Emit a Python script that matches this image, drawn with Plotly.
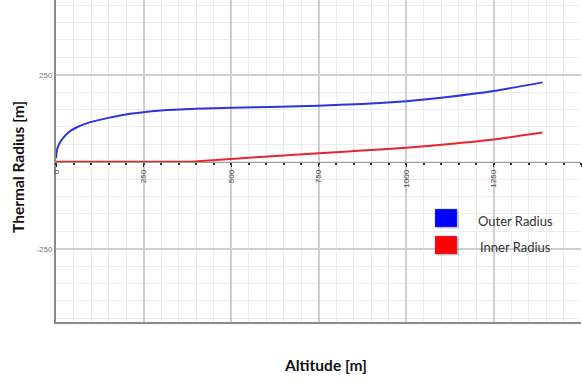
import plotly.graph_objects as go

altitude_outer = [0, 3, 10, 20, 38, 60, 96, 150, 200, 250, 300, 400, 500, 640, 750, 875, 1000, 1120, 1250, 1390]
outer_radius = [10, 35, 53, 68, 86, 99, 113, 126, 136, 142, 147, 152, 155, 158, 161, 166, 174, 186, 203, 228]

altitude_inner = [0, 100, 200, 300, 390, 500, 640, 750, 875, 1000, 1125, 1250, 1390]
inner_radius = [0, 0, 0, 0, 0, 8, 17, 24, 32, 40, 51, 64, 84]

series_names = ["Outer Radius", "Inner Radius"]
series_colors = ["#2a35e0", "#e8262a"]
legend_colors = ["#0000ff", "#ff0000"]
x_ticks = [0, 250, 500, 750, 1000, 1250, 1500]
y_ticks = [-250, 250]
y_tick_text = ["-250", "250"]

W, H = 582, 383
L, R, T, B = 56, 1, 0, 61
pw, ph = W - L - R, H - T - B
y_range = [-460.6, 464.7]
zero_pos = (0 - y_range[0]) / (y_range[1] - y_range[0])

def px_x(p):
    return (p - L) / pw

def px_y(p):
    return 1 - (p - T) / ph

fig = go.Figure()
fig.add_trace(go.Scatter(x=altitude_outer, y=outer_radius, mode="lines", name=series_names[0],
                         line=dict(color=series_colors[0], width=2, shape="spline", smoothing=0.5),
                         showlegend=False))
fig.add_trace(go.Scatter(x=altitude_inner, y=inner_radius, mode="lines", name=series_names[1],
                         line=dict(color=series_colors[1], width=2, shape="spline", smoothing=0.5),
                         showlegend=False, xaxis="x2"))

minor_grid = dict(tickmode="linear", tick0=0, dtick=50, showgrid=True, gridcolor="#ececec", gridwidth=1)

fig.update_layout(
    width=W, height=H,
    margin=dict(l=L, r=R, t=T, b=B),
    paper_bgcolor="white", plot_bgcolor="white",
    xaxis=dict(range=[0, 1500], tickmode="array", tickvals=x_ticks, showticklabels=False,
               showgrid=True, gridcolor="#cfcfcf", gridwidth=1.5,
               minor=minor_grid,
               showline=True, linecolor="#8a8a8a", linewidth=2, zeroline=False, ticks=""),
    xaxis2=dict(range=[0, 1500], overlaying="x", matches="x", anchor="free", position=zero_pos,
                tickmode="array", tickvals=x_ticks, showgrid=False, zeroline=False, showline=True,
                linecolor="#9a9a9a", linewidth=1,
                ticks="outside", ticklen=4, tickcolor="#333", tickwidth=1,
                minor=dict(tickmode="linear", tick0=0, dtick=50, ticks="outside", ticklen=2,
                           tickcolor="#333", tickwidth=2, showgrid=False),
                tickangle=-90, tickfont=dict(family="Liberation Sans", size=8, color="#444")),
    yaxis=dict(range=y_range, tickmode="array", tickvals=y_ticks, ticktext=y_tick_text,
               showgrid=True, gridcolor="#cfcfcf", gridwidth=1.5,
               minor=minor_grid,
               zeroline=False, showline=True, linecolor="#8a8a8a", linewidth=2, ticks="",
               ticklabelstandoff=0,
               tickfont=dict(family="Liberation Sans", size=8, color="#777")),
    showlegend=False,
)

# legend swatches
sq_y = [(209, 227), (236, 254)]
for (y0, y1), c in zip(sq_y, legend_colors):
    fig.add_shape(type="rect", xref="paper", yref="paper",
                  x0=px_x(436), x1=px_x(459), y0=px_y(y1 + 1.5), y1=px_y(y0 + 1.5),
                  fillcolor="rgba(0,0,0,0.18)", line=dict(width=0))
    fig.add_shape(type="rect", xref="paper", yref="paper",
                  x0=px_x(435), x1=px_x(457), y0=px_y(y1), y1=px_y(y0),
                  fillcolor=c, line=dict(color="rgba(120,120,160,0.4)", width=1))

legend_text_y = [221, 247]
legend_text_x = [515, 515]
for name, tx, ty in zip(series_names, legend_text_x, legend_text_y):
    fig.add_annotation(x=px_x(tx), y=px_y(ty), xref="paper", yref="paper", text=name,
                       showarrow=False, xanchor="center", yanchor="middle",
                       font=dict(family="Lato", size=13, color="#333"))

fig.add_annotation(x=px_x(18), y=px_y(167), xref="paper", yref="paper", text="<b>Thermal Radius [m]</b>",
                   showarrow=False, textangle=-90, xanchor="center", yanchor="middle",
                   font=dict(family="Lato", size=15.5, color="#111"))
fig.add_annotation(x=px_x(325), y=px_y(365), xref="paper", yref="paper", text="<b>Altitude [m]</b>",
                   showarrow=False, xanchor="center", yanchor="middle",
                   font=dict(family="Lato", size=15.5, color="#111"))

fig.write_html("out.html")
